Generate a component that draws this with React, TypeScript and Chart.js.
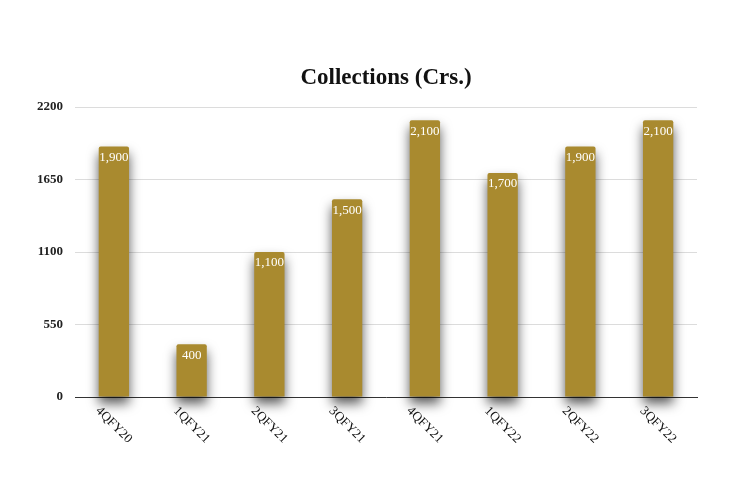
import React, { useEffect, useRef } from "react";
import { Chart, registerables } from "chart.js";

Chart.register(...registerables);

const quarters = ["4QFY20", "1QFY21", "2QFY21", "3QFY21", "4QFY21", "1QFY22", "2QFY22", "3QFY22"];
const collections = [1900, 400, 1100, 1500, 2100, 1700, 1900, 2100];
const yTicks = [0, 550, 1100, 1650, 2200];
const chartTitle = "Collections (Crs.)";

const BAR_COLOR = "#A98A2F";
const SERIF = "'Liberation Serif', 'DejaVu Serif', serif";

// Soft drop shadow under the bars only
const barShadow = {
  id: "barShadow",
  beforeDatasetDraw(chart: any) {
    const ctx = chart.ctx;
    ctx.save();
    ctx.shadowColor = "rgba(0,0,0,0.65)";
    ctx.shadowBlur = 12;
    ctx.shadowOffsetX = 0;
    ctx.shadowOffsetY = 7;
  },
  afterDatasetDraw(chart: any) {
    chart.ctx.restore();
  },
};

// Title centred over the plot area, value labels inside the bars, slanted category labels
const labelsPlugin = {
  id: "labelsPlugin",
  afterDraw(chart: any) {
    const ctx = chart.ctx;
    const area = chart.chartArea;
    ctx.save();
    ctx.fillStyle = "#111";
    ctx.font = `bold 23px ${SERIF}`;
    ctx.textAlign = "center";
    ctx.textBaseline = "middle";
    ctx.fillText(chartTitle, (area.left + area.right) / 2, 78);
    ctx.restore();
  },
  afterDatasetsDraw(chart: any) {
    const ctx = chart.ctx;
    const meta = chart.getDatasetMeta(0);
    ctx.save();
    ctx.fillStyle = "#ffffff";
    ctx.font = `13px ${SERIF}`;
    ctx.textAlign = "center";
    ctx.textBaseline = "middle";
    meta.data.forEach((bar: any, i: number) => {
      ctx.fillText(collections[i].toLocaleString("en-US"), bar.x, bar.y + 11);
    });
    ctx.restore();

    const xScale = chart.scales.x;
    const bottom = chart.chartArea.bottom;
    ctx.save();
    ctx.fillStyle = "#111";
    ctx.font = `13px ${SERIF}`;
    ctx.textAlign = "center";
    ctx.textBaseline = "middle";
    quarters.forEach((q, i) => {
      const x = xScale.getPixelForTick(i);
      ctx.save();
      ctx.translate(x, bottom + 28);
      ctx.rotate(Math.PI / 4);
      ctx.fillText(q, 0, 0);
      ctx.restore();
    });
    ctx.restore();
  },
};

export default function App() {
  const canvasRef = useRef<HTMLCanvasElement>(null);

  useEffect(() => {
    if (!canvasRef.current) return;
    const chart = new Chart(canvasRef.current, {
      type: "bar",
      data: {
        labels: quarters,
        datasets: [
          {
            data: collections,
            backgroundColor: BAR_COLOR,
            borderRadius: 2,
            barPercentage: 0.39,
            categoryPercentage: 1,
            clip: false,
          },
        ],
      },
      options: {
        animation: false,
        responsive: false,
        layout: { padding: { left: 10, right: 43, top: 107, bottom: 93 } },
        plugins: {
          legend: { display: false },
          tooltip: { enabled: false },
          title: { display: false },
        },
        scales: {
          x: {
            grid: { display: false },
            border: { display: true, color: "#333", width: 1 },
            ticks: { display: false },
          },
          y: {
            min: 0,
            max: 2200,
            afterBuildTicks(scale: any) {
              scale.ticks = yTicks.map((v) => ({ value: v }));
            },
            afterFit(scale: any) {
              scale.width = 65;
            },
            grid: { color: "#dcdcdc", drawTicks: false },
            border: { display: false },
            ticks: {
              color: "#222",
              padding: 12,
              font: { family: SERIF, size: 13, weight: "bold" },
              callback: (v: any) => String(v),
            },
          },
        },
      },
      plugins: [barShadow, labelsPlugin],
    });
    return () => chart.destroy();
  }, []);

  return (
    <div style={{ position: "fixed", left: 0, top: 0, width: 740, height: 498, background: "#fff" }}>
      <canvas ref={canvasRef} width={740} height={498} />
    </div>
  );
}
